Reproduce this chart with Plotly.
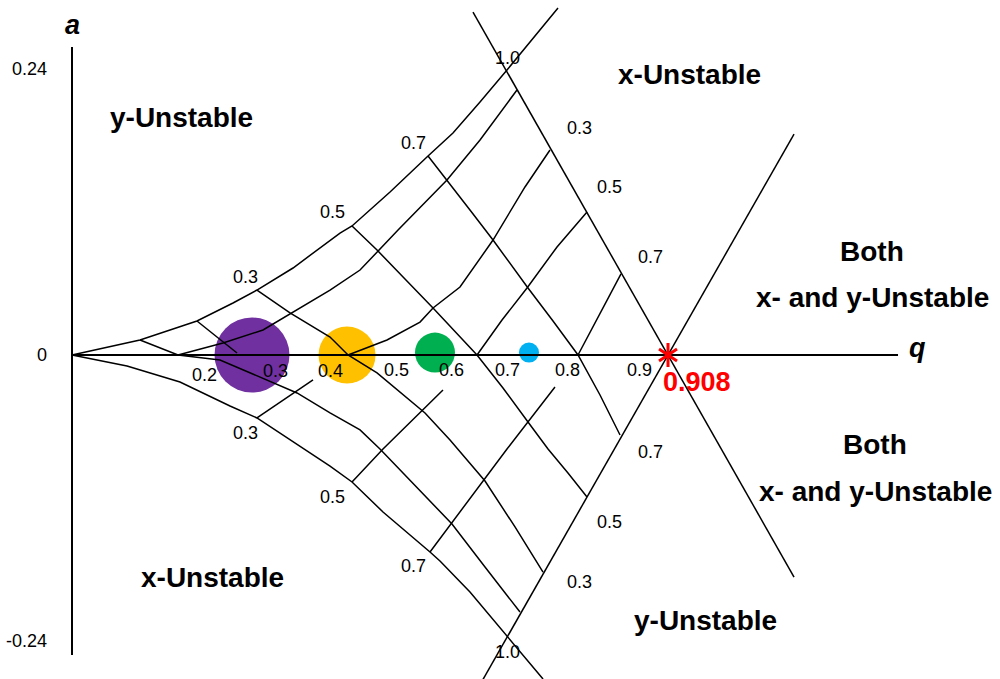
import plotly.graph_objects as go

# ---------------- data (q, a) ----------------
# stability boundaries
beta_y0_q = [0, 0.0853, 0.1036, 0.1676, 0.1904, 0.2453, 0.2818, 0.3367, 0.4083, 0.4266,
             0.4845, 0.5424, 0.5804, 0.6216, 0.6627, 0.7404]
beta_y0_a = [0, 0.0101, 0.0126, 0.0244, 0.0286, 0.0437, 0.0546, 0.0731, 0.1025, 0.1084,
             0.1370, 0.1672, 0.1866, 0.2126, 0.2395, 0.2916]

beta_x0_q = [0, 0.0838, 0.1645, 0.2407, 0.2818, 0.3321, 0.3672, 0.3931, 0.4266, 0.4738,
             0.5454, 0.5606, 0.6063, 0.6627, 0.7176]
beta_x0_a = [0, -0.0092, -0.0227, -0.0429, -0.0529, -0.0714, -0.0840, -0.0933, -0.1067, -0.1319,
             -0.1655, -0.1731, -0.1992, -0.2361, -0.2723]

beta_x1_q = [0.6109, 1.1000]
beta_x1_a = [0.2882, -0.1866]
beta_y1_q = [1.1000, 0.6231]
beta_y1_a = [0.1857, -0.2756]

# iso-beta lines
iso_x_small_q = [0.1036, 0.1615, 0.2255, 0.2910, 0.3428, 0.3931, 0.4388, 0.4692, 0.5149, 0.5789, 0.6292, 0.6825]
iso_x_small_a = [0.0126, 0.0, -0.0042, -0.0193, -0.0319, -0.0487, -0.0630, -0.0790, -0.1050, -0.1420, -0.1782, -0.2160]
iso_y_small_q = [0.1615, 0.2300, 0.2910, 0.3428, 0.3931, 0.4388, 0.4967, 0.5713, 0.6216, 0.6779]
iso_y_small_a = [0.0, 0.0101, 0.0210, 0.0378, 0.0546, 0.0714, 0.1050, 0.1471, 0.1807, 0.2227]
iso_x_short_q = [0.1904, 0.2514]
iso_x_short_a = [0.0286, 0.0017]

iso_x03_q = [0.2818, 0.3321, 0.3931, 0.4205, 0.4647, 0.4997, 0.5378, 0.5759, 0.5957, 0.6292, 0.6749, 0.7176]
iso_x03_a = [0.0546, 0.0353, 0.0151, 0.0, -0.0151, -0.0311, -0.0487, -0.0714, -0.0840, -0.1059, -0.1445, -0.1824]
iso_y03_q = [0.4205, 0.4799, 0.5302, 0.5500, 0.5911, 0.6414, 0.6901, 0.7282]
iso_y03_a = [0.0, 0.0126, 0.0277, 0.0395, 0.0571, 0.0966, 0.1412, 0.1723]

iso_x05_q = [0.4266, 0.4647, 0.5073, 0.5500, 0.6170, 0.6566, 0.6947, 0.7252, 0.7556, 0.7846]
iso_x05_a = [0.1084, 0.0882, 0.0639, 0.0395, 0.0, -0.0277, -0.0563, -0.0790, -0.0992, -0.1193]
iso_y05_q = [0.6170, 0.6551, 0.6932, 0.7389, 0.7846]
iso_y05_a = [0.0, 0.0294, 0.0563, 0.0908, 0.1202]

iso_x07_q = [0.5424, 0.5713, 0.6063, 0.6414, 0.6947, 0.7328, 0.7709, 0.8044, 0.8349]
iso_x07_a = [0.1672, 0.1471, 0.1218, 0.0966, 0.0563, 0.0286, 0.0, -0.0336, -0.0672]
iso_y07_q = [0.7709, 0.8044, 0.8364]
iso_y07_a = [0.0, 0.0345, 0.0681]

low_y03_q = [0.2818, 0.3672]
low_y03_a = [-0.0529, -0.0210]
low_y05_q = [0.4266, 0.4738, 0.5652]
low_y05_a = [-0.1067, -0.0790, -0.0294]
low_y07_q = [0.5454, 0.6399, 0.6627, 0.7358]
low_y07_a = [-0.1655, -0.0966, -0.0790, -0.0269]

# axes extents
q_axis_end = 1.2584
a_axis_top = 0.2588
a_axis_bottom = -0.2521

# ions (circles)
ion_q = [0.2742, 0.4190, 0.5530, 0.6962]
ion_a = [0.0, 0.0, 0.002, 0.002]
ion_size = [75, 57, 40, 20]
ion_color = ["#7030A0", "#FFC000", "#00B050", "#00B0F0"]

star_q = 0.908

# labels
a_ticks = [0.24, 0, -0.24]
a_tick_text = ["0.24", "0", "-0.24"]

q_lab_text = ["0.2", "0.3", "0.4", "0.5", "0.6", "0.7", "0.8", "0.9"]
q_lab_q = [0.2026, 0.3093, 0.3931, 0.4951, 0.5789, 0.6642, 0.7556, 0.8653]
q_lab_a = [-0.0168, -0.0134, -0.0134, -0.0126, -0.0126, -0.0126, -0.0126, -0.0126]

beta_lab_text = ["0.3", "0.5", "0.7", "1.0",
                 "0.3", "0.5", "0.7",
                 "0.7", "0.5", "0.3",
                 "0.3", "0.5", "0.7", "1.0"]
beta_lab_q = [0.2636, 0.3976, 0.5195, 0.6627,
              0.7739, 0.8196, 0.8806,
              0.8806, 0.8196, 0.7739,
              0.2636, 0.3976, 0.5195, 0.6627]
beta_lab_a = [0.0655, 0.1202, 0.1782, 0.2496,
              0.1908, 0.1412, 0.0824,
              -0.0815, -0.1403, -0.1908,
              -0.0655, -0.1193, -0.1773, -0.2496]

region_text = ["y-Unstable", "x-Unstable", "Both", "x- and y-Unstable",
               "Both", "x- and y-Unstable", "x-Unstable", "y-Unstable"]
region_q = [0.1661, 0.9400, 1.2188, 1.2188, 1.2234, 1.2234, 0.2133, 0.9644]
region_a = [0.1992, 0.2353, 0.0866, 0.0487, -0.0756, -0.1143, -0.1866, -0.2227]

# ---------------- figure ----------------
FONT = "Liberation Sans, Arial, sans-serif"
fig = go.Figure()

# circles first (under the lines)
fig.add_trace(go.Scatter(x=ion_q, y=ion_a, mode="markers",
                         marker=dict(size=ion_size, color=ion_color, opacity=1, line=dict(width=0)),
                         hoverinfo="skip", showlegend=False))

curves = [
    (beta_y0_q, beta_y0_a), (beta_x0_q, beta_x0_a),
    (beta_x1_q, beta_x1_a), (beta_y1_q, beta_y1_a),
    (iso_x_small_q, iso_x_small_a), (iso_y_small_q, iso_y_small_a),
    (iso_x_short_q, iso_x_short_a),
    (iso_x03_q, iso_x03_a), (iso_y03_q, iso_y03_a),
    (iso_x05_q, iso_x05_a), (iso_y05_q, iso_y05_a),
    (iso_x07_q, iso_x07_a), (iso_y07_q, iso_y07_a),
    (low_y03_q, low_y03_a), (low_y05_q, low_y05_a), (low_y07_q, low_y07_a),
]
for cq, ca in curves:
    fig.add_trace(go.Scatter(x=cq, y=ca, mode="lines",
                             line=dict(color="black", width=1.5),
                             hoverinfo="skip", showlegend=False))

# axes
fig.add_trace(go.Scatter(x=[0, q_axis_end], y=[0, 0], mode="lines",
                         line=dict(color="black", width=2), hoverinfo="skip", showlegend=False))
fig.add_trace(go.Scatter(x=[0, 0], y=[a_axis_top, a_axis_bottom], mode="lines",
                         line=dict(color="black", width=2), hoverinfo="skip", showlegend=False))

# red star at q = 0.908
for sym in ["y-up-open", "y-down-open"]:
    fig.add_trace(go.Scatter(x=[star_q], y=[0], mode="markers",
                             marker=dict(symbol=sym, size=15, color="#FF0000", opacity=1,
                                         line=dict(color="#FF0000", width=3)),
                             hoverinfo="skip", showlegend=False))

ann = []
ann.append(dict(x=star_q, y=0, text=f"<b>{star_q:.3f}</b>", showarrow=False, xshift=29, yshift=-27,
                font=dict(family=FONT, size=27, color="#FF0000")))
ann.append(dict(x=0.0015, y=0.2773, text="<b><i>a</i></b>", showarrow=False,
                font=dict(family=FONT, size=27, color="black")))
ann.append(dict(x=1.2874, y=0.0059, text="<b><i>q</i></b>", showarrow=False,
                font=dict(family=FONT, size=27, color="black")))
for v, t in zip(a_ticks, a_tick_text):
    ann.append(dict(x=-0.035, y=v, text=t, showarrow=False, xanchor="right",
                    font=dict(family=FONT, size=18, color="black")))
for t, x, y in zip(q_lab_text, q_lab_q, q_lab_a):
    ann.append(dict(x=x, y=y, text=t, showarrow=False,
                    font=dict(family=FONT, size=18, color="black")))
for t, x, y in zip(beta_lab_text, beta_lab_q, beta_lab_a):
    ann.append(dict(x=x, y=y, text=t, showarrow=False,
                    font=dict(family=FONT, size=18, color="black")))
for t, x, y in zip(region_text, region_q, region_a):
    ann.append(dict(x=x, y=y, text=f"<b>{t}</b>", showarrow=False,
                    font=dict(family=FONT, size=28, color="black")))

fig.update_layout(
    width=1000, height=679,
    margin=dict(l=0, r=0, t=0, b=0),
    paper_bgcolor="white", plot_bgcolor="white",
    xaxis=dict(range=[-0.10969, 1.41377], visible=False, fixedrange=True),
    yaxis=dict(range=[-0.27227, 0.29832], visible=False, fixedrange=True),
    annotations=ann,
    showlegend=False,
)

fig.write_html("out.html", config={"displayModeBar": False},
               post_script="document.body.style.margin='0';document.body.style.overflow='hidden';")
